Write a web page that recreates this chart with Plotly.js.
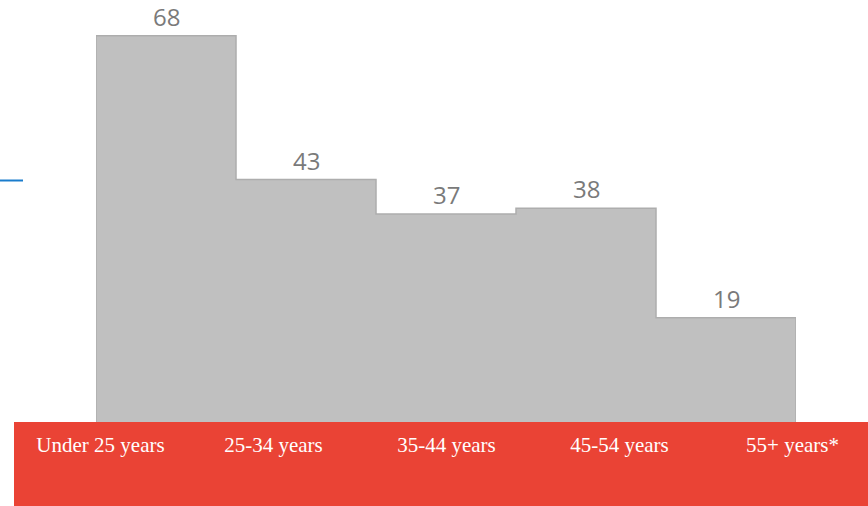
<!DOCTYPE html>
<html>
<head>
<meta charset="utf-8">
<script src="https://cdn.plot.ly/plotly-3.0.1.min.js"></script>
<style>html,body{margin:0;padding:0;background:#fff;}#chart{width:868px;height:506px;}</style>
</head>
<body>
<div id="chart"></div>
<script>
const categories = ["Under 25 years", "25-34 years", "35-44 years", "45-54 years", "55+ years*"];
const values = [68, 43, 37, 38, 19];

const W = 868, H = 506;

// outline of the bar silhouette, built from the data
const ox = [], oy = [];
ox.push(-0.5); oy.push(0);
values.forEach((v, i) => { ox.push(i - 0.5, i + 0.5); oy.push(v, v); });
ox.push(values.length - 0.5); oy.push(0);

const traces = [
  {
    type: "bar", x: categories, y: values,
    marker: {color: "#c0c0c0", line: {width: 0}},
    hoverinfo: "skip"
  },
  {
    type: "scatter", mode: "lines", x: ox, y: oy, xaxis: "x3", yaxis: "y",
    line: {color: "#adadad", width: 1.5, shape: "linear"},
    hoverinfo: "skip"
  }
];

const annotations = categories.map((c, i) => ({
  x: c, y: values[i], xref: "x", yref: "y",
  text: String(values[i]), showarrow: false,
  yanchor: "bottom", yshift: 1,
  font: {family: "Open Sans, sans-serif", size: 24, color: "#7a7a7a"}
}));

const layout = {
  width: W, height: H,
  margin: {l: 0, r: 0, t: 0, b: 0},
  paper_bgcolor: "#ffffff", plot_bgcolor: "rgba(0,0,0,0)",
  showlegend: false,
  bargap: 0,
  xaxis: {
    domain: [96 / W, 796 / W], range: [-0.5, 4.5], type: "category",
    showticklabels: false, showgrid: false, zeroline: false, showline: false, ticks: "",
    fixedrange: true
  },
  xaxis3: {
    overlaying: "x", domain: [96 / W, 796 / W], range: [-0.5, 4.5],
    visible: false, anchor: "y", fixedrange: true
  },
  xaxis2: {
    domain: [14 / W, 1], range: [-0.5, -0.5 + 5 * 854 / 865],
    anchor: "free", position: (H - 430) / H,
    type: "linear", tickmode: "array",
    tickvals: categories.map((c, i) => i), ticktext: categories,
    showgrid: false, zeroline: false, showline: false, ticks: "",
    tickfont: {family: "Liberation Serif, Times New Roman, serif", size: 21, color: "#ffffff"},
    fixedrange: true
  },
  yaxis: {
    domain: [84 / H, 1], range: [0.87, 74.2],
    visible: false, showgrid: false, zeroline: false, fixedrange: true
  },
  shapes: [
    {type: "rect", xref: "paper", yref: "paper", x0: 14 / W, x1: 1, y0: 0, y1: 84 / H,
     fillcolor: "#ea4335", line: {width: 0}, layer: "below"},
    {type: "line", xref: "paper", yref: "paper", x0: 0, x1: 23 / W,
     y0: (H - 180.5) / H, y1: (H - 180.5) / H,
     line: {color: "#1a7ccc", width: 2}}
  ],
  annotations: annotations
};

// dummy trace to activate xaxis2
traces.push({type: "scatter", x: [0], y: [null], xaxis: "x2", yaxis: "y", hoverinfo: "skip", mode: "markers"});

Plotly.newPlot("chart", traces, layout, {displayModeBar: false, staticPlot: true});
</script>
</body>
</html>
